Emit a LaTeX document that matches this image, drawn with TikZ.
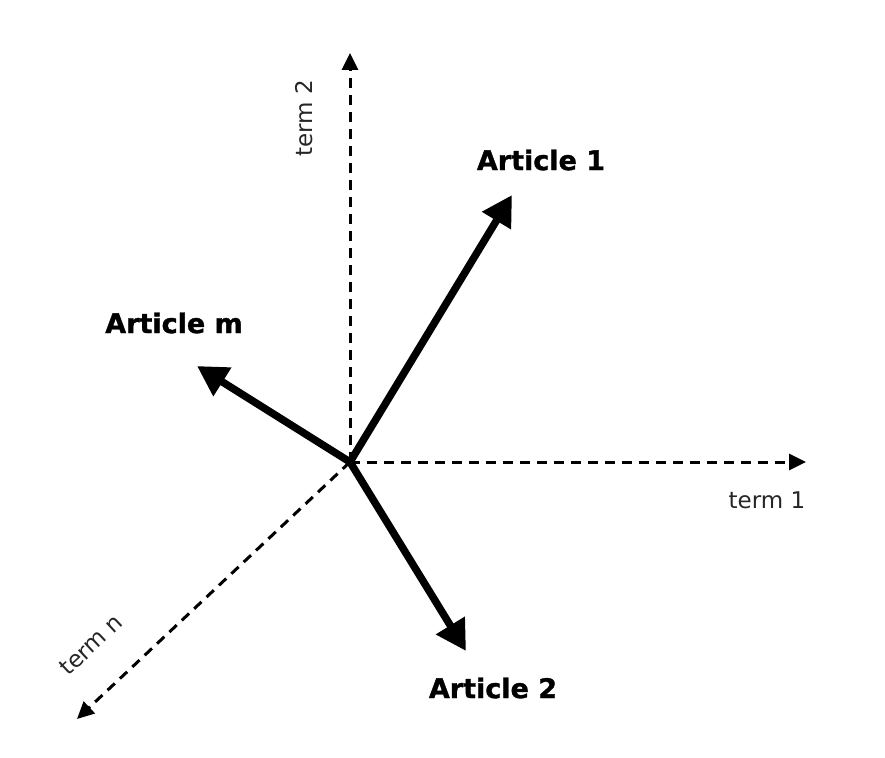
\documentclass[tikz,border=0pt]{standalone}
\usepackage{fontspec}
\setmainfont{DejaVu Sans}
\newfontfamily\artfont[FakeBold=1.2]{DejaVu Sans Bold}
\usetikzlibrary{arrows.meta}
\begin{document}
\begin{tikzpicture}[x=1pt,y=-1pt,
  axis/.style={line width=3pt, dash pattern=on 10pt off 7pt, -{Triangle[length=17pt,width=16pt]}},
  vec/.style={line width=7.5pt, -{Triangle[length=30pt,width=32pt]}},
  termlbl/.style={font=\fontsize{23}{23}\selectfont, text=black!85},
  artlbl/.style={font=\artfont\fontsize{27}{27}\selectfont}]
\useasboundingbox (0,0) rectangle (885,757);
\coordinate (O) at (350,462);
\coordinate (t2) at (350,53);
\coordinate (t1) at (806,462);
\coordinate (tn) at (77,719);
\coordinate (a1) at (512,195);
\coordinate (am) at (197,366);
\coordinate (a2) at (466,651);
\draw[axis] (O) -- (t2);
\draw[axis] (O) -- (t1);
\draw[axis] (O) -- (tn);
\draw[vec] (O) -- (a1);
\draw[vec] (O) -- (am);
\draw[vec] (O) -- (a2);
\node[termlbl, rotate=90] (l2) at (304,118) {term 2};
\node[termlbl] (l1) at (767,500) {term 1};
\node[termlbl, rotate=43] (ln) at (91,645) {term n};
\node[artlbl] (la1) at (541,160) {Article 1};
\node[artlbl] (lam) at (174,323) {Article m};
\node[artlbl] (la2) at (493,688) {Article 2};
\end{tikzpicture}
\end{document}
